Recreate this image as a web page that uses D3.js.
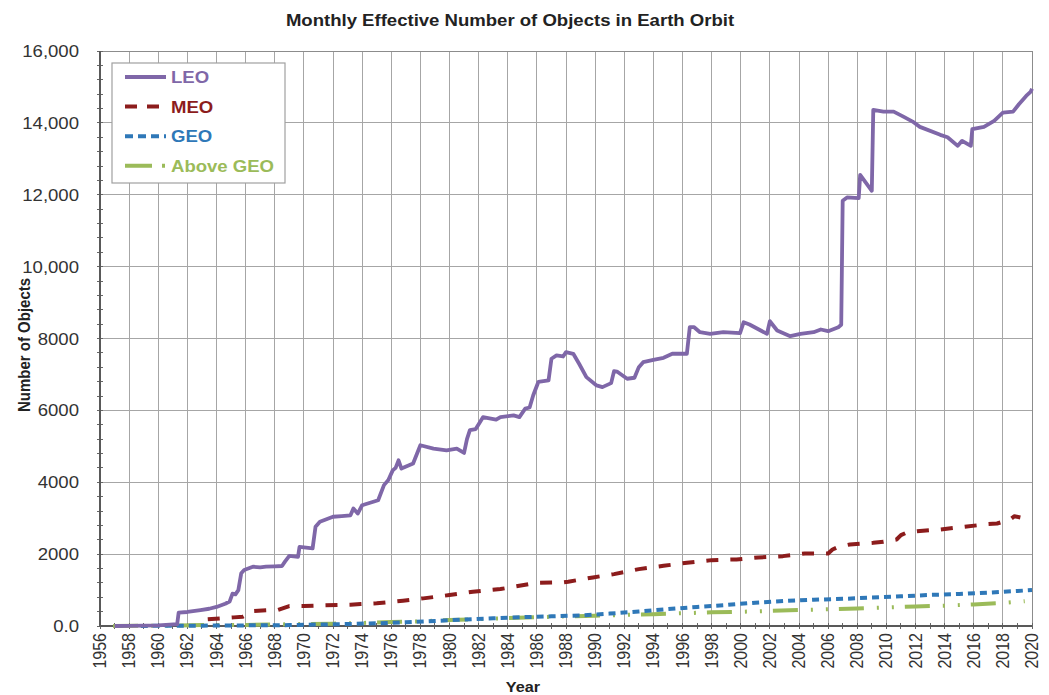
<!DOCTYPE html>
<html>
<head>
<meta charset="utf-8">
<script src="https://cdn.jsdelivr.net/npm/d3@7"></script>
<style>
  html, body { margin: 0; padding: 0; background: #fff; }
  svg { display: block; font-family: "Liberation Sans", Arial, sans-serif; }
</style>
</head>
<body>
<svg id="chart" width="1049" height="695"></svg>
<script>
// Effective number of objects per orbital regime, [year, count]
const leo = [
  [1957.0, 0], [1958.0, 5], [1959.0, 10], [1960.0, 20], [1960.8, 40], [1961.3, 50],
  [1961.4, 370], [1962.0, 390], [1962.9, 444], [1963.5, 480], [1964.0, 530], [1964.6, 620],
  [1964.9, 680], [1965.1, 900], [1965.3, 880], [1965.5, 1000], [1965.7, 1470], [1965.9, 1560],
  [1966.5, 1650], [1967.0, 1630], [1967.4, 1650], [1968.0, 1660], [1968.5, 1670], [1968.7, 1790],
  [1969.0, 1950], [1969.6, 1925], [1969.7, 2200], [1970.6, 2160], [1970.8, 2760], [1971.1, 2900],
  [1972.0, 3040], [1972.6, 3060], [1973.2, 3080], [1973.4, 3270], [1973.7, 3130], [1974.0, 3360],
  [1975.1, 3500], [1975.5, 3920], [1975.8, 4060], [1976.1, 4330], [1976.3, 4400], [1976.5, 4610],
  [1976.7, 4380], [1977.5, 4520], [1978.0, 5030], [1978.9, 4935], [1979.8, 4890], [1980.5, 4935],
  [1981.0, 4815], [1981.2, 5200], [1981.4, 5450], [1981.8, 5480], [1982.3, 5810], [1983.2, 5740],
  [1983.5, 5814], [1984.4, 5860], [1984.8, 5814], [1985.2, 6047], [1985.5, 6080], [1985.75, 6420],
  [1986.1, 6790], [1986.8, 6833], [1987.0, 7436], [1987.35, 7528], [1987.8, 7500], [1988.0, 7619],
  [1988.5, 7575], [1988.9, 7297], [1989.4, 6925], [1990.1, 6694], [1990.5, 6647], [1991.1, 6758],
  [1991.3, 7092], [1991.5, 7080], [1992.2, 6880], [1992.7, 6908], [1993.0, 7203], [1993.3, 7342],
  [1994.0, 7408], [1994.7, 7464], [1995.3, 7575], [1996.3, 7575], [1996.5, 8314], [1996.8, 8314],
  [1997.2, 8175], [1997.9, 8130], [1998.8, 8175], [1999.95, 8147], [2000.2, 8453], [2000.6, 8389],
  [2001.8, 8130], [2002.0, 8481], [2002.5, 8222], [2003.4, 8064], [2004.1, 8130], [2005.0, 8175],
  [2005.5, 8250], [2006.0, 8203], [2006.7, 8314], [2006.9, 8380], [2007.0, 11833], [2007.3, 11925],
  [2008.1, 11906], [2008.2, 12555], [2009.0, 12111], [2009.1, 14361], [2009.8, 14314], [2010.5, 14314],
  [2011.2, 14167], [2011.8, 14036], [2012.3, 13889], [2013.7, 13667], [2014.2, 13600], [2014.9, 13361],
  [2015.2, 13500], [2015.8, 13361], [2015.9, 13824], [2016.7, 13889], [2017.4, 14056], [2018.0, 14286],
  [2018.7, 14314], [2019.1, 14519], [2019.6, 14750], [2019.9, 14861], [2020.0, 14950]
];

const meo = [
  [1963.4, 186], [1965.2, 240], [1965.8, 260], [1966.5, 417], [1967.5, 440], [1968.2, 444],
  [1969.0, 556], [1970.0, 556], [1971.3, 574], [1973.2, 592], [1973.9, 611], [1975.0, 630],
  [1976.8, 703], [1978.2, 769], [1980.0, 861], [1981.6, 953], [1983.5, 1028], [1985.1, 1139],
  [1986.0, 1203], [1987.8, 1214], [1988.15, 1231], [1989.85, 1352], [1991.3, 1444], [1993.0, 1583],
  [1994.7, 1676], [1996.3, 1759], [1998.0, 1833], [1999.7, 1852], [2001.2, 1907], [2002.9, 1944],
  [2004.4, 2019], [2006.0, 2019], [2006.3, 2130], [2006.7, 2203], [2007.5, 2269], [2009.1, 2314],
  [2009.8, 2342], [2010.7, 2407], [2011.0, 2528], [2011.4, 2602], [2012.1, 2639], [2013.7, 2685],
  [2015.3, 2758], [2016.9, 2833], [2017.6, 2852], [2018.5, 2963], [2018.8, 3055], [2019.2, 3019]
];

const geo = [
  [1958.8, 0], [1961.0, 10], [1963.0, 10], [1965.0, 15], [1967.0, 20], [1969.0, 25],
  [1971.0, 40], [1973.0, 55], [1975.0, 75], [1977.0, 105], [1979.0, 140], [1981.0, 180],
  [1983.0, 215], [1985.0, 245], [1987.0, 270], [1989.0, 295], [1991.0, 345], [1993.0, 405],
  [1995.0, 470], [1997.0, 530], [1999.0, 585], [2001.0, 650], [2003.0, 695], [2005.0, 730],
  [2007.0, 755], [2009.0, 790], [2011.0, 825], [2013.0, 865], [2015.0, 890], [2017.0, 930],
  [2019.0, 975], [2020.0, 1000]
];

const aboveGeo = [
  [1956.9, 0], [1959.0, 5], [1961.0, 15], [1963.0, 25], [1966.0, 30], [1968.0, 40],
  [1970.0, 55], [1972.0, 65], [1974.0, 85], [1976.0, 110], [1978.0, 130], [1980.0, 165],
  [1982.0, 190], [1984.0, 220], [1986.0, 245], [1988.0, 270], [1990.0, 285], [1992.0, 310],
  [1994.0, 330], [1996.0, 355], [1998.0, 380], [2000.0, 395], [2002.0, 420], [2004.0, 445],
  [2006.0, 465], [2008.0, 490], [2010.0, 515], [2012.0, 545], [2014.0, 565], [2016.0, 600],
  [2018.0, 640], [2019.5, 690]
];

const seriesNames = ["LEO", "MEO", "GEO", "Above GEO"];
const yearTicks = d3.range(1956, 2021, 2);
const countTicks = d3.range(0, 16001, 2000);
const countLabels = ["0.0", "2000", "4000", "6000", "8000", "10,000", "12,000", "14,000", "16,000"];

const titleText = "Monthly Effective Number of Objects in Earth Orbit";
const xTitle = "Year";
const yTitle = "Number of Objects";

// ---- drawing ----
const svg = d3.select("#chart");
const plotL = 100, plotR = 1032, plotT = 51, plotB = 626;
const wide = 1.16; // horizontal stretch applied to upright text

const x = d3.scaleLinear().domain([1956, 2020]).range([plotL, plotR]);
const y = d3.scaleLinear().domain([0, 16000]).range([plotB, plotT]);

const styles = [
  { data: leo,      color: "#7f67a8", width: 3.8, dash: null },
  { data: meo,      color: "#8c1c1c", width: 4,   dash: "12,12" },
  { data: geo,      color: "#2f78b8", width: 4,   dash: "7,5" },
  { data: aboveGeo, color: "#9bbb59", width: 4,   dash: "25,13,2,13,2,11" }
];

// grid
const grid = svg.append("g");
grid.selectAll("line.v").data(yearTicks.filter(d => d > 1956 && d < 2020)).join("line")
  .attr("class", "v")
  .attr("x1", d => x(d)).attr("x2", d => x(d))
  .attr("y1", plotT).attr("y2", plotB)
  .attr("stroke", "#a6a6a6").attr("stroke-width", 1).attr("shape-rendering", "crispEdges");
grid.selectAll("line.h").data(countTicks.filter(d => d > 0)).join("line")
  .attr("class", "h")
  .attr("x1", plotL).attr("x2", plotR)
  .attr("y1", d => y(d)).attr("y2", d => y(d))
  .attr("stroke", "#a6a6a6").attr("stroke-width", 1).attr("shape-rendering", "crispEdges");

// plot frame
svg.append("rect")
  .attr("x", plotL).attr("y", plotT).attr("width", plotR - plotL).attr("height", plotB - plotT)
  .attr("fill", "none").attr("stroke", "#8c8c8c").attr("stroke-width", 1)
  .attr("shape-rendering", "crispEdges");

// minor ticks
svg.append("g").selectAll("line").data(d3.range(0, 16001, 400)).join("line")
  .attr("x1", plotL - 3).attr("x2", plotL + 3)
  .attr("y1", d => y(d)).attr("y2", d => y(d))
  .attr("stroke", "#666").attr("shape-rendering", "crispEdges");
svg.append("g").selectAll("line").data(d3.range(1956, 2021, 1)).join("line")
  .attr("x1", d => x(d)).attr("x2", d => x(d))
  .attr("y1", plotB - 3).attr("y2", plotB + 3)
  .attr("stroke", "#666").attr("shape-rendering", "crispEdges");

// axis lines
svg.append("line").attr("x1", plotL).attr("x2", plotL).attr("y1", plotT).attr("y2", plotB + 1)
  .attr("stroke", "#595959").attr("stroke-width", 2);
svg.append("line").attr("x1", plotL).attr("x2", plotR).attr("y1", plotB).attr("y2", plotB)
  .attr("stroke", "#595959").attr("stroke-width", 2);

// series lines
const line = d3.line().x(d => x(d[0])).y(d => y(d[1]));
styles.slice().reverse().forEach(s => {
  svg.append("path")
    .attr("d", line(s.data))
    .attr("fill", "none")
    .attr("stroke", s.color)
    .attr("stroke-width", s.width)
    .attr("stroke-linejoin", "round")
    .attr("stroke-dasharray", s.dash);
});

// y tick labels
svg.append("g").selectAll("text").data(countTicks).join("text")
  .attr("transform", d => `translate(79,${y(d) + 6}) scale(${wide},1)`)
  .attr("text-anchor", "end")
  .attr("font-size", 16).attr("fill", "#333")
  .text((d, i) => countLabels[i]);

// x tick labels (rotated)
svg.append("g").selectAll("text").data(yearTicks).join("text")
  .attr("transform", d => `translate(${x(d) + 6},${plotB + 7}) scale(${wide},1) rotate(-90)`)
  .attr("text-anchor", "end")
  .attr("font-size", 16).attr("fill", "#333")
  .text(d => d);

// titles
svg.append("text").attr("transform", `translate(510,26) scale(${wide},1)`).attr("text-anchor", "middle")
  .attr("font-size", 16).attr("font-weight", "bold").attr("fill", "#222").text(titleText);
svg.append("text").attr("transform", `translate(523,692) scale(${wide},1)`).attr("text-anchor", "middle")
  .attr("font-size", 14).attr("font-weight", "bold").attr("fill", "#222").text(xTitle);
svg.append("text").attr("transform", `translate(30,345) scale(${wide},1) rotate(-90)`).attr("text-anchor", "middle")
  .attr("font-size", 15).attr("font-weight", "bold").attr("fill", "#222").text(yTitle);

// legend
const legend = svg.append("g");
legend.append("rect").attr("x", 112).attr("y", 63).attr("width", 173).attr("height", 120)
  .attr("fill", "#fff").attr("stroke", "#a0a0a0").attr("stroke-width", 1.2);
const legendDash = [null, "12,10", "8,5", "27,10,3,100"];
seriesNames.forEach((name, i) => {
  const s = styles[i];
  const ly = 77 + i * 29.6;
  legend.append("line")
    .attr("x1", 125).attr("x2", 166).attr("y1", ly).attr("y2", ly)
    .attr("stroke", s.color).attr("stroke-width", s.width)
    .attr("stroke-dasharray", legendDash[i]);
  legend.append("text")
    .attr("transform", `translate(171,${ly + 6}) scale(${wide},1)`)
    .attr("font-size", 16).attr("font-weight", "bold").attr("fill", s.color)
    .text(name);
});
</script>
</body>
</html>
